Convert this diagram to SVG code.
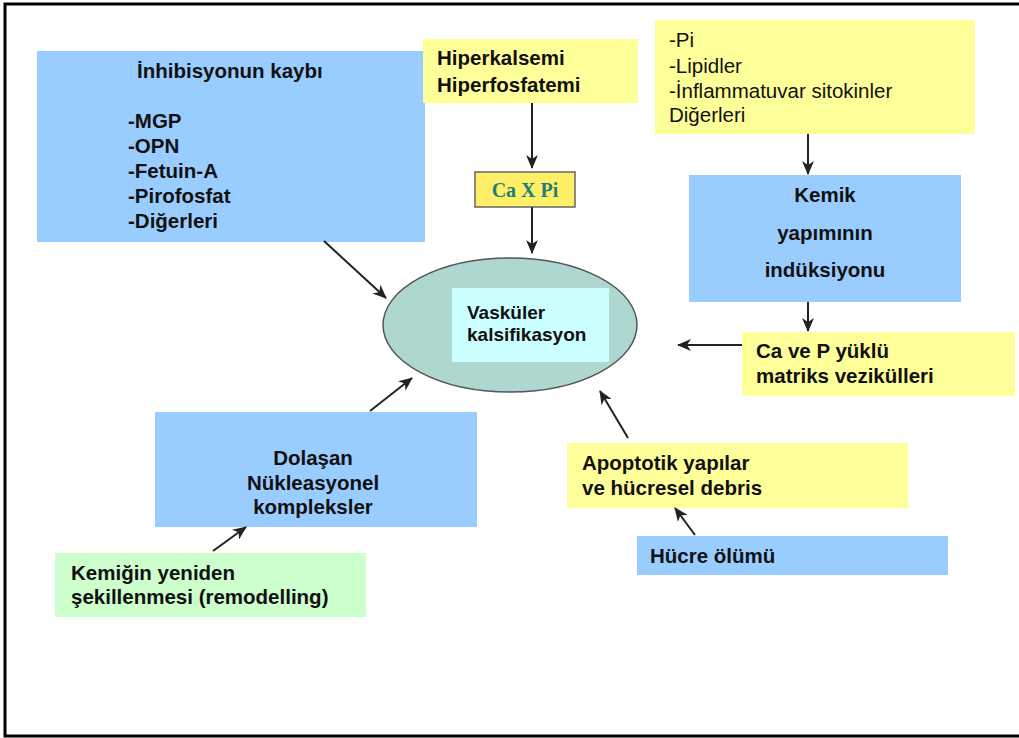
<svg xmlns="http://www.w3.org/2000/svg" width="1019" height="738" viewBox="0 0 1019 738">
<style>
.blue{fill:#99CCFF}
.yel{fill:#FFFF99}
.t{font-family:"Liberation Sans",Arial,sans-serif;font-size:20.5px;fill:#111;font-weight:bold}
.r{font-family:"Liberation Sans",Arial,sans-serif;font-size:20.5px;fill:#111}
.c{text-anchor:middle}
.con line{stroke:#222;stroke-width:2;marker-end:url(#ah)}
</style>
<defs>
<marker id="ah" viewBox="0 0 14 12" refX="13" refY="6" markerWidth="14" markerHeight="12" markerUnits="userSpaceOnUse" orient="auto">
<path d="M0,0 L14,6 L0,12 L4,6 Z" fill="#222"/>
</marker>
</defs>
<rect width="1019" height="738" fill="#fff"/>
<path d="M1019,4 H5 V736 H1019" fill="none" stroke="#000" stroke-width="3"/>

<g id="inhibisyon">
<rect class="blue" x="37" y="51" width="388" height="191"/>
<text class="t" x="137" y="78">İnhibisyonun kaybı</text>
<text class="t" x="128" y="128">-MGP</text>
<text class="t" x="128" y="153">-OPN</text>
<text class="t" x="128" y="178">-Fetuin-A</text>
<text class="t" x="128" y="203">-Pirofosfat</text>
<text class="t" x="128" y="228">-Diğerleri</text>
</g>

<g id="hiperkalsemi">
<rect class="yel" x="423" y="39" width="215" height="64"/>
<text class="t" x="437" y="65">Hiperkalsemi</text>
<text class="t" x="437" y="92">Hiperfosfatemi</text>
</g>

<g id="caxpi">
<rect x="475" y="172" width="100" height="35" fill="#FFEE66" stroke="#666" stroke-width="1.5"/>
<text x="525" y="197" text-anchor="middle" font-family="Liberation Serif,Times New Roman,serif" font-weight="bold" font-size="20" fill="#1E7E7A">Ca X Pi</text>
</g>

<g id="pi">
<rect class="yel" x="655" y="20" width="320" height="114"/>
<text class="r" x="669" y="47">-Pi</text>
<text class="r" x="669" y="73">-Lipidler</text>
<text class="r" x="669" y="98">-İnflammatuvar sitokinler</text>
<text class="r" x="669" y="122">Diğerleri</text>
</g>

<g id="kemik">
<rect class="blue" x="689" y="175" width="272" height="127"/>
<text class="t c" x="825" y="202">Kemik</text>
<text class="t c" x="825" y="240">yapımının</text>
<text class="t c" x="825" y="277">indüksiyonu</text>
</g>

<g id="cavep">
<rect class="yel" x="742" y="332" width="273" height="64"/>
<text class="t" x="756" y="358">Ca ve P yüklü</text>
<text class="t" x="756" y="383">matriks vezikülleri</text>
</g>

<g id="vaskuler">
<ellipse cx="510" cy="325" rx="127" ry="67" fill="#AED7CF" stroke="#555" stroke-width="1.5"/>
<rect x="452" y="288" width="157" height="74" fill="#CCFFFF"/>
<text class="t" x="467" y="319" font-size="19" style="font-size:19px">Vasküler</text>
<text class="t" x="467" y="341" style="font-size:19px">kalsifikasyon</text>
</g>

<g id="dolasan">
<rect class="blue" x="155" y="412" width="322" height="115"/>
<text class="t c" x="313" y="465">Dolaşan</text>
<text class="t c" x="313" y="490">Nükleasyonel</text>
<text class="t c" x="313" y="514">kompleksler</text>
</g>

<g id="kemigin">
<rect x="55" y="553" width="311" height="64" fill="#CCFFCC"/>
<text class="t" x="71" y="580">Kemiğin yeniden</text>
<text class="t" x="71" y="604">şekillenmesi (remodelling)</text>
</g>

<g id="apoptotik">
<rect class="yel" x="567" y="443" width="341" height="65"/>
<text class="t" x="582" y="470">Apoptotik yapılar</text>
<text class="t" x="582" y="495">ve hücresel debris</text>
</g>

<g id="hucre">
<rect class="blue" x="637" y="536" width="311" height="39"/>
<text class="t" x="650" y="563">Hücre ölümü</text>
</g>

<g id="connectors" class="con">
<line x1="532" y1="103" x2="532" y2="168"/>
<line x1="532" y1="207" x2="532" y2="253"/>
<line x1="808" y1="134" x2="808" y2="174"/>
<line x1="808" y1="302" x2="808" y2="331"/>
<line x1="742" y1="345" x2="678" y2="345"/>
<line x1="324" y1="241" x2="386" y2="298"/>
<line x1="370" y1="411" x2="412" y2="378"/>
<line x1="213" y1="551" x2="246" y2="527"/>
<line x1="628" y1="438" x2="600" y2="391"/>
<line x1="695" y1="535" x2="675" y2="508"/>
</g>
</svg>
